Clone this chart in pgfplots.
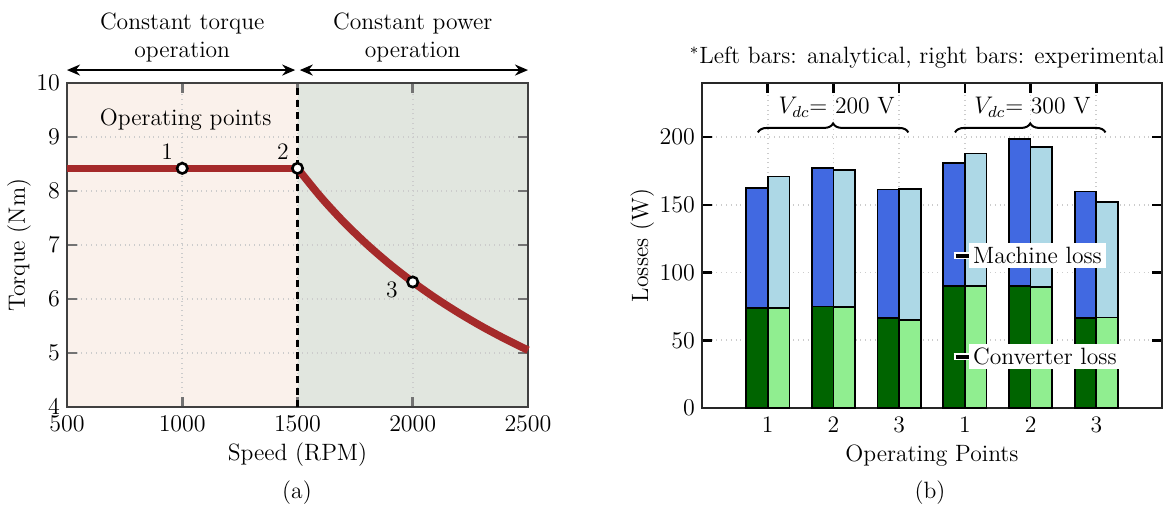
\documentclass[border=0pt]{standalone}
\usepackage{pgfplots}
\pgfplotsset{compat=1.18}
\usetikzlibrary{arrows.meta,decorations.pathreplacing}

\definecolor{torqueside}{RGB}{250,241,235}
\definecolor{powerside}{RGB}{225,230,223}
\definecolor{curvered}{RGB}{165,42,42}
\definecolor{anaconv}{RGB}{0,100,0}
\definecolor{anamach}{RGB}{65,105,225}
\definecolor{expconv}{RGB}{144,238,144}
\definecolor{expmach}{RGB}{173,216,230}

% x = operating point position, total = machine + converter loss, conv = converter loss
\pgfplotstableread{
x     total conv
0.835 162.4 73.8
1.835 177.0 75.0
2.835 161.4 66.6
3.835 181.2 89.9
4.835 198.5 90.3
5.835 159.9 66.6
}\analytical
\pgfplotstableread{
x     total conv
1.165 171.0 74.0
2.165 175.7 74.8
3.165 161.6 64.9
4.165 187.9 89.9
5.165 193.0 89.1
6.165 152.0 66.8
}\experimental

\begin{document}
\begin{tikzpicture}[font=\fontsize{11.8}{14}\selectfont]

% (a) torque-speed envelope
\begin{axis}[
  set layers,
  at={(33.5pt,51.5pt)}, anchor=south west,
  scale only axis, width=230.5pt, height=162pt,
  xmin=500, xmax=2500, ymin=4, ymax=10,
  xtick={500,1000,...,2500}, ytick={4,5,...,10},
  /pgf/number format/1000 sep={},
  tick align=inside, major tick length=5pt,
  tick style={draw=black!55, line width=1.4pt},
  axis line style={draw=black!75, line width=1pt},
  grid=major, grid style={dotted, draw=gray!40, line width=0.9pt},
  xlabel={Speed (RPM)}, ylabel={Torque (Nm)},
  x tick label style={yshift=-1pt},
  xlabel style={yshift=1pt}, ylabel style={yshift=-4pt},
  clip=false,
]
  \addplot[on layer=axis background, fill=torqueside, draw=none]
    coordinates {(500,4) (1500,4) (1500,10) (500,10)} -- cycle;
  \addplot[on layer=axis background, fill=powerside, draw=none]
    coordinates {(1500,4) (2500,4) (2500,10) (1500,10)} -- cycle;
  \addplot[black, line width=1.3pt, dash pattern=on 3.5pt off 2.5pt]
    coordinates {(1500,4) (1500,10)};
  \addplot[curvered, line width=3.8pt, smooth] coordinates {
    (500,8.42) (1000,8.42) (1500,8.42)
  };
  \addplot[curvered, line width=3.8pt, smooth] coordinates {
    (1500,8.42) (1600,7.894) (1700,7.429) (1800,7.017) (1900,6.647)
    (2000,6.315) (2100,6.014) (2200,5.741) (2300,5.491) (2400,5.263) (2500,5.052)
  };
  \addplot[only marks, mark=*, mark size=2.6pt,
    mark options={fill=white, draw=black, line width=1.3pt}]
    coordinates {(1000,8.42) (1500,8.42) (2000,6.315)};
  \node at (axis cs:935,8.72) {1};
  \node at (axis cs:1437,8.72) {2};
  \node at (axis cs:1910,6.17) {3};
  \node at (axis cs:1015,9.33) {Operating points};
  \draw[{Stealth[length=6.5pt,width=5.5pt]}-{Stealth[length=6.5pt,width=5.5pt]}, line width=1pt]
    (axis cs:500,10.24) -- (axis cs:1490,10.24);
  \draw[{Stealth[length=6.5pt,width=5.5pt]}-{Stealth[length=6.5pt,width=5.5pt]}, line width=1pt]
    (axis cs:1510,10.24) -- (axis cs:2500,10.24);
  \node[align=center] at (axis cs:1000,10.84) {Constant torque\\operation};
  \node[align=center] at (axis cs:2000,10.84) {Constant power\\operation};
\end{axis}

% (b) loss breakdown
\begin{axis}[
  at={(351pt,51pt)}, anchor=south west,
  scale only axis, width=230pt, height=162.5pt,
  xmin=0, xmax=7, ymin=0, ymax=240,
  xtick={1,...,6}, xticklabels={1,2,3,1,2,3},
  ytick={0,50,...,200},
  tick align=inside, major tick length=5pt,
  tick style={draw=black, line width=1.3pt},
  axis line style={draw=black!85, line width=1.1pt},
  grid=major, grid style={dotted, draw=gray!40, line width=0.9pt},
  xlabel={Operating Points}, ylabel={Losses (W)},
  x tick label style={yshift=-1pt},
  xlabel style={yshift=1pt}, ylabel style={yshift=-4pt},
  clip=false,
]
  \addplot[ybar, bar width=0.33, bar shift=0pt, fill=anamach, draw=black, line width=0.9pt]
    table[x=x, y=total] {\analytical};
  \addplot[ybar, bar width=0.33, bar shift=0pt, fill=anaconv, draw=black, line width=0.9pt]
    table[x=x, y=conv] {\analytical};
  \addplot[ybar, bar width=0.33, bar shift=0pt, fill=expmach, draw=black, line width=0.9pt]
    table[x=x, y=total] {\experimental};
  \addplot[ybar, bar width=0.33, bar shift=0pt, fill=expconv, draw=black, line width=0.9pt]
    table[x=x, y=conv] {\experimental};

  \draw[decorate, decoration={brace, amplitude=4.5pt}, line width=1pt]
    (axis cs:0.85,203.5) -- (axis cs:3.14,203.5);
  \draw[decorate, decoration={brace, amplitude=4.5pt}, line width=1pt]
    (axis cs:3.85,203.5) -- (axis cs:6.14,203.5);
  \node at (axis cs:2.05,222) {$V_{dc}$= 200 V};
  \node at (axis cs:5.03,222) {$V_{dc}$= 300 V};

  \draw[white, line width=3.6pt] (axis cs:3.83,112.6) -- (axis cs:4.08,112.6);
  \draw[black, line width=2pt] (axis cs:3.86,112.6) -- (axis cs:4.06,112.6);
  \node[fill=white, anchor=west, inner sep=2pt] at (axis cs:4.06,112.6) {Machine loss};
  \draw[white, line width=3.6pt] (axis cs:3.83,37.8) -- (axis cs:4.08,37.8);
  \draw[black, line width=2pt] (axis cs:3.86,37.8) -- (axis cs:4.06,37.8);
  \node[fill=white, anchor=west, inner sep=2pt] at (axis cs:4.06,37.8) {Converter loss};

  \node at (axis cs:3.43,259) {$^*$Left bars: analytical, right bars: experimental};
\end{axis}

\node at (148.5pt,8.5pt) {(a)};
\node at (465pt,8.5pt) {(b)};

\pgfresetboundingbox
\useasboundingbox (0,0) rectangle (581.5pt,255pt);
\end{tikzpicture}
\end{document}
